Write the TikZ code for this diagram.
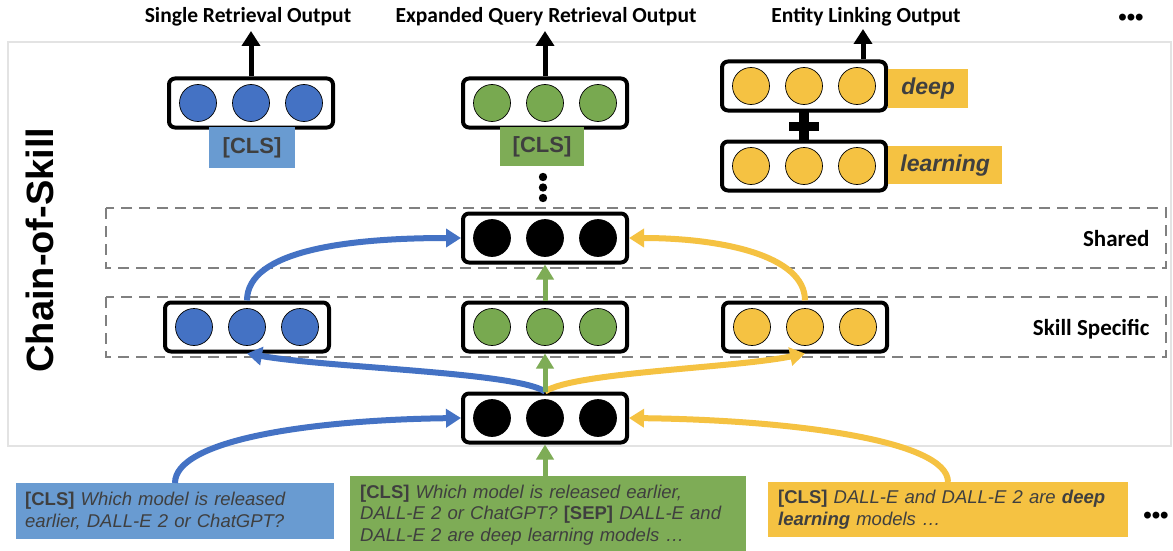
\documentclass[tikz,border=0pt]{standalone}
\usepackage{fontspec}
\setmainfont{Liberation Sans}
\newfontfamily\calib{Carlito}
\usetikzlibrary{arrows.meta}
\definecolor{cblue}{HTML}{4472C4}
\definecolor{lblue}{HTML}{699BD1}
\definecolor{cgreen}{HTML}{78A950}
\definecolor{lgreen}{HTML}{7EAC56}
\definecolor{cyel}{HTML}{F5C242}
\definecolor{tgray}{HTML}{3F3F3F}
\definecolor{dgray}{HTML}{808080}
\definecolor{ogray}{HTML}{E3E3E3}
\tikzset{
  vecbox/.style={draw=black, line width=4pt, rounded corners=6pt, minimum width=164pt, minimum height=49pt, fill=white, inner sep=0pt},
  dot/.style={circle, draw=black, line width=0.7pt, minimum size=37pt, inner sep=0pt},
  tagbox/.style={inner sep=0pt, font=\fontsize{22}{24}\selectfont\bfseries, text=tgray},
  qbox/.style={inner sep=0pt, anchor=north west, font=\fontsize{18.5}{21.5}\selectfont, text=tgray, align=left},
  titlef/.style={font=\calib\fontsize{21.5}{22}\selectfont\bfseries, anchor=base},
  sidef/.style={font=\calib\fontsize{23}{24}\selectfont\bfseries, anchor=base east},
  arr/.style={line width=6pt, -{Triangle[width=18pt,length=15pt]}},
  garr/.style={line width=5pt, -{Triangle[width=17pt,length=15pt]}},
  karr/.style={line width=5pt, -{Triangle[width=18pt,length=15pt]}},
  dashbox/.style={draw=dgray, line width=2.6pt, dash pattern=on 11pt off 7pt},
}
\newcommand{\vecrow}[3]{%
  \node[vecbox] (#1) at (#2) {};
  \node[dot, fill=#3] (#1a) at ([xshift=-53pt]#1.center) {};
  \node[dot, fill=#3] (#1b) at (#1.center) {};
  \node[dot, fill=#3] (#1c) at ([xshift=53pt]#1.center) {};
}
\begin{document}
\begin{tikzpicture}[x=1pt,y=-1pt]
\useasboundingbox (0,0) rectangle (1173,551);
\fill[white] (0,0) rectangle (1173,551);
% outer frame
\draw[ogray, line width=2.5pt] (8,42) rectangle (1171,446);
% dashed boxes
\draw[dashbox] (106,208) rectangle (1166,268);
\draw[dashbox] (106,297) rectangle (1166,357);
\node[sidef] (lshared) at (1153,246) {Shared};
\node[sidef] (lskill) at (1153,335) {Skill Specific};
% side label
\node[rotate=90, font=\fontsize{38}{40}\selectfont\bfseries] (cos) at (40,250) {Chain-of-Skill};
% titles
\node[titlef] (t1) at (248,23) {Single Retrieval Output};
\node[titlef] (t2) at (546,23) {Expanded Query Retrieval Output};
\node[titlef] (t3) at (866,23) {Entity Linking Output};
\node[font=\fontsize{24}{24}\selectfont\bfseries, anchor=center] (tdots) at (1131,20) {•••};
\coordinate (o1) at (251,31);
\coordinate (o2) at (545,31);
\coordinate (o3) at (863,29);
% top row
\vecrow{tb}{251,103}{cblue}
\vecrow{tg}{545,103}{cgreen}
\vecrow{ty}{804,86}{cyel}
\vecrow{tl}{804,166}{cyel}
% labels
\node[tagbox, fill=lblue, minimum width=86pt, minimum height=41pt, anchor=north] (cls1) at (252,127) {[CLS]};
\node[tagbox, fill=lgreen, minimum width=84pt, minimum height=39pt, anchor=north] (cls2) at (542,127) {[CLS]};
\node[tagbox, fill=cyel, minimum width=80pt, minimum height=39pt, anchor=north west, font=\fontsize{23}{24}\selectfont\bfseries\itshape] (ldeep) at (888,69) {deep};
\node[tagbox, fill=cyel, minimum width=114pt, minimum height=38pt, anchor=north west, font=\fontsize{23}{24}\selectfont\bfseries\itshape] (llearn) at (888,146) {learning};
% plus
\fill[black] (789,122) rectangle (819,131);
\fill[black] (799,110) rectangle (809,142);
% top arrows
\draw[karr] (tb.north) -- (o1);
\draw[karr] (tg.north) -- (o2);
\draw[karr] (ty.north -| o3) -- (o3);
% vertical dots
\fill (543,177) circle (4.2pt);
\fill (543,187.5) circle (4.2pt);
\fill (543,198) circle (4.2pt);
% shared
\vecrow{sh}{545,238}{black}
% skill specific
\vecrow{sb}{247,327}{cblue}
\vecrow{sg}{545,327}{cgreen}
\vecrow{sy}{805,327}{cyel}
% bottom encoder
\vecrow{bt}{545,418}{black}
% query boxes
\node[qbox, fill=lblue, minimum width=316pt, minimum height=56pt, text width=300pt, inner xsep=9pt] (q1) at (16,483)
 {\textbf{[CLS]} \textit{Which model is released}\\\textit{earlier, DALL-E 2 or ChatGPT?}};
\node[qbox, fill=lgreen, minimum width=392pt, minimum height=78pt, text width=376pt, inner xsep=10pt] (q2) at (350,476)
 {\textbf{[CLS]} \textit{Which model is released earlier,}\\\textit{DALL-E 2 or ChatGPT?} \textbf{[SEP]} \textit{DALL-E and}\\\textit{DALL-E 2 are deep learning models …}};
\node[qbox, fill=cyel, minimum width=356pt, minimum height=55pt, text width=340pt, inner xsep=10pt] (q3) at (768,482)
 {\textbf{[CLS]} \textit{DALL-E and DALL-E 2 are \textbf{deep}}\\\textit{\textbf{learning} models …}};
\node[font=\fontsize{24}{24}\selectfont\bfseries, anchor=center] (bdots) at (1156,518) {•••};
\coordinate (q1t) at (175,483);
\coordinate (q3t) at (948,482);
% arrows bottom -> encoder
\draw[arr, cblue] (q1t) .. controls (175,440) and (310,420) .. (bt.west);
\draw[arr, cyel] (q3t) .. controls (948,440) and (790,420) .. (bt.east);
\draw[garr, lgreen] (q2.north -| bt.south) -- (bt.south);
% encoder -> skill
\draw[arr, cblue] (bt.north) .. controls (515,372) and (330,368) .. (sb.south);
\draw[arr, cyel] (bt.north) .. controls (575,372) and (735,368) .. (sy.south);
\draw[garr, lgreen] (bt.north) -- (sg.south);
% skill -> shared
\draw[arr, cblue] (sb.north) .. controls (247,250) and (350,238) .. (sh.west);
\draw[arr, cyel] (sy.north) .. controls (805,255) and (720,238) .. (sh.east);
\draw[garr, lgreen] (sg.north) -- (sh.south);
\end{tikzpicture}
\end{document}
